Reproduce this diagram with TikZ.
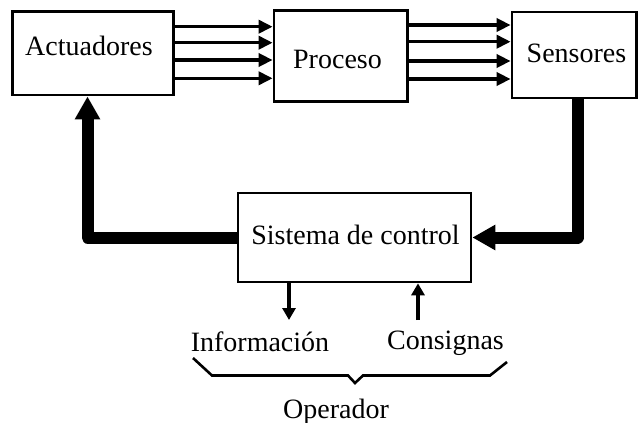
\documentclass[tikz,border=0pt]{standalone}
\usepackage{fontspec}
\setmainfont{Liberation Serif}
\usetikzlibrary{arrows.meta}
\begin{document}
\begin{tikzpicture}[x=1pt,y=-1pt,
  box/.style={draw,line width=2.7pt,inner sep=0pt},
  lbl/.style={anchor=base,inner sep=0pt,font=\fontsize{28}{30}\selectfont},
  flow/.style={line width=3.5pt,-{Triangle[length=14pt,width=13pt]}},
  fat/.style={line width=12pt,line join=round,-{Triangle[length=23pt,width=24pt]}},
  op/.style={line width=3.8pt,-{Triangle[length=12pt,width=13pt]}},
  brace/.style={line width=2.6pt,line join=miter}]
\useasboundingbox (0,0) rectangle (638,423);
% boxes
\node[box,minimum width=160.6pt,minimum height=83.3pt] (act) at (93,53.4) {};
\node[box,minimum width=133.3pt,minimum height=91pt] (pro) at (340.65,56.2) {};
\node[box,minimum width=124.5pt,minimum height=86pt] (sen) at (574.25,55) {};
\node[box,minimum width=233pt,minimum height=89pt] (ctrl) at (354.5,237.5) {};
% labels
\node[lbl] (tact) at (89,55) {Actuadores};
\node[lbl] (tpro) at (337.5,68) {Proceso};
\node[lbl] (tsen) at (576.5,62) {Sensores};
\node[lbl] (tctrl) at (355.5,244) {Sistema de control};
\node[lbl] (tinfo) at (260,351) {Información};
\node[lbl] (tcons) at (445.5,349) {Consignas};
\node[lbl] (top) at (336,418) {Operador};
% flows
\foreach \yy in {26.7,42.7,60,78.3} \draw[flow] (act.east |- 0,\yy) -- (pro.west |- 0,\yy);
\foreach \yy in {25,41.7,61,79} \draw[flow] (pro.east |- 0,\yy) -- (sen.west |- 0,\yy);
% feedback
\draw[fat] (ctrl.west) -| ([xshift=-5.5pt]act.south);
\draw[fat] ([xshift=3.25pt]sen.south) |- (ctrl.east);
% operator arrows
\coordinate (infotip) at (289,320);
\coordinate (consend) at (418,320);
\draw[op] (ctrl.south -| infotip) -- (infotip);
\draw[op] (consend) -- (ctrl.south -| consend);
% brace
\coordinate (b1) at (193,358);
\coordinate (b7) at (507,362);
\draw[brace] (b1) -- (212,375.5) -- (348,375.5) -- (355,383) -- (363,375.5) -- (490,375.5) -- (b7);
\end{tikzpicture}
\end{document}
